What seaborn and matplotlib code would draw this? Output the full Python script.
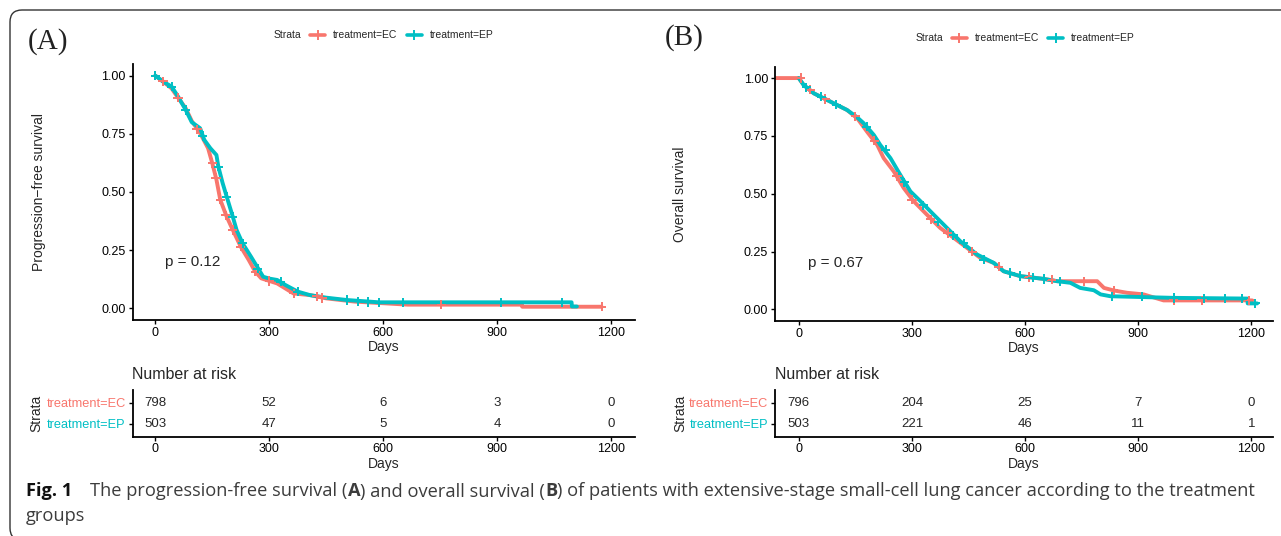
import numpy as np
import pandas as pd
import matplotlib
matplotlib.use("Agg")
import matplotlib.pyplot as plt
from matplotlib.lines import Line2D
from matplotlib.patches import FancyBboxPatch
import seaborn as sns

# ---------------- data ----------------
strata = ["treatment=EC", "treatment=EP"]
colors = ["#F8766D", "#00BFC4"]

# Panel A: progression-free survival
pfs_ec_days = [0, 20, 43, 60, 80, 96, 118, 139, 150, 161, 171, 188, 204, 225, 246, 263, 279, 300,
               321, 343, 364, 407, 450, 525, 600, 664, 965, 966, 1175]
pfs_ec_surv = [1.0, 0.975, 0.945, 0.905, 0.86, 0.805, 0.753, 0.688, 0.624, 0.553, 0.467, 0.394, 0.337,
               0.265, 0.208, 0.158, 0.129, 0.118, 0.107, 0.085, 0.064, 0.057, 0.043, 0.029, 0.022,
               0.016, 0.016, 0.007, 0.007]
pfs_ep_days = [0, 20, 43, 60, 80, 96, 118, 129, 145, 161, 166, 177, 188, 204, 214, 230, 252, 268, 284,
               300, 321, 343, 375, 407, 450, 504, 589, 1096, 1097, 1110]
pfs_ep_surv = [1.0, 0.975, 0.953, 0.91, 0.853, 0.80, 0.774, 0.724, 0.688, 0.659, 0.609, 0.54, 0.48,
               0.394, 0.337, 0.279, 0.222, 0.179, 0.136, 0.128, 0.122, 0.10, 0.072, 0.057, 0.046,
               0.036, 0.026, 0.026, 0.008, 0.008]
pfs_ec_cens_days = [0, 20, 60, 110, 150, 160, 171, 185, 204, 225, 263, 300, 364, 425, 440, 753, 1175]
pfs_ec_cens_surv = [1.0, 0.975, 0.905, 0.77, 0.624, 0.56, 0.467, 0.40, 0.337, 0.265, 0.158, 0.118,
                    0.064, 0.052, 0.045, 0.016, 0.007]
pfs_ep_cens_days = [0, 43, 80, 125, 166, 188, 204, 230, 270, 330, 375, 504, 535, 559, 590, 651, 910, 1070]
pfs_ep_cens_surv = [1.0, 0.953, 0.853, 0.74, 0.609, 0.48, 0.394, 0.279, 0.17, 0.115, 0.072, 0.036,
                    0.03, 0.027, 0.026, 0.026, 0.026, 0.026]

# Panel B: overall survival
os_ec_days = [-63, 0, 13, 40, 84, 128, 155, 181, 208, 225, 252, 278, 305, 340, 375, 411, 446, 481,
              517, 543, 587, 649, 685, 791, 809, 835, 870, 914, 967, 1202]
os_ec_surv = [1.0, 1.0, 0.97, 0.934, 0.898, 0.862, 0.826, 0.768, 0.711, 0.654, 0.596, 0.525, 0.467,
              0.409, 0.352, 0.309, 0.266, 0.223, 0.201, 0.165, 0.144, 0.132, 0.122, 0.122, 0.093,
              0.082, 0.072, 0.065, 0.039, 0.039]
os_ep_days = [0, 13, 40, 84, 128, 155, 172, 199, 216, 243, 269, 296, 323, 358, 393, 428, 473, 517,
              543, 587, 649, 685, 720, 746, 782, 800, 826, 994, 1189, 1190, 1215]
os_ep_surv = [1.0, 0.97, 0.934, 0.898, 0.862, 0.83, 0.805, 0.754, 0.711, 0.654, 0.582, 0.51, 0.467,
              0.409, 0.352, 0.295, 0.237, 0.201, 0.165, 0.144, 0.132, 0.122, 0.115, 0.093, 0.083,
              0.065, 0.057, 0.05, 0.047, 0.026, 0.026]
os_ec_cens_days = [5, 30, 70, 150, 200, 260, 300, 350, 395, 460, 530, 610, 670, 755, 835, 994, 1069, 1193]
os_ec_cens_surv = [1.0, 0.95, 0.91, 0.835, 0.73, 0.575, 0.475, 0.39, 0.33, 0.25, 0.185, 0.14, 0.128,
                   0.122, 0.082, 0.039, 0.039, 0.039]
os_ep_cens_days = [20, 60, 100, 180, 230, 280, 330, 370, 410, 437, 490, 560, 587, 620, 649, 693, 831,
                   910, 994, 1073, 1131, 1175, 1210]
os_ep_cens_surv = [0.96, 0.92, 0.885, 0.79, 0.69, 0.55, 0.45, 0.38, 0.32, 0.285, 0.215, 0.158, 0.144,
                   0.138, 0.132, 0.122, 0.057, 0.055, 0.05, 0.048, 0.047, 0.047, 0.026]

# Risk tables
risk_times = [0, 300, 600, 900, 1200]
pfs_risk_ec = [798, 52, 6, 3, 0]
pfs_risk_ep = [503, 47, 5, 4, 0]
os_risk_ec = [796, 204, 25, 7, 0]
os_risk_ep = [503, 221, 46, 11, 1]

pvals = ["p = 0.12", "p = 0.67"]
ylabels = ["Progression\u2212free survival", "Overall survival"]
panel_labels = ["(A)", "(B)"]
ytick_vals = [0.0, 0.25, 0.5, 0.75, 1.0]
ytick_labels = ["0.00", "0.25", "0.50", "0.75", "1.00"]
caption_pieces = [("The progression-free survival (", "normal"), ("A", "bold"),
                  (") and overall survival (", "normal"), ("B", "bold"),
                  (") of patients with extensive-stage small-cell lung cancer according to the treatment", "normal")]
caption_line2 = "groups"

# ---------------- styling ----------------
sns.set_theme(style="ticks")
plt.rcParams['font.family'] = ['Liberation Sans', 'DejaVu Sans']

W, H = 1281, 536
fig = plt.figure(figsize=(W / 100, H / 100), dpi=100)


def fx(px):
    return px / W


def fy(py):
    return 1 - py / H


def make_axes(x0, x1, ytop, ybot):
    return fig.add_axes([fx(x0), fy(ybot), fx(x1 - x0), (ybot - ytop) / H])


axA = make_axes(132.5, 635, 64, 320)
axB = make_axes(775, 1273, 66.5, 321)
tA = make_axes(132.5, 635, 390, 436.5)
tB = make_axes(775, 1273, 390, 436.5)

xlimA = (-60, 1263)
xlimB = (-63, 1257)


def long_df(days_ec, surv_ec, days_ep, surv_ep):
    return pd.concat([
        pd.DataFrame({"day": days_ec, "surv": surv_ec, "strata": strata[0]}),
        pd.DataFrame({"day": days_ep, "surv": surv_ep, "strata": strata[1]}),
    ], ignore_index=True)


palette = dict(zip(strata, colors))

panels = [
    (axA, tA, xlimA,
     long_df(pfs_ec_days, pfs_ec_surv, pfs_ep_days, pfs_ep_surv),
     long_df(pfs_ec_cens_days, pfs_ec_cens_surv, pfs_ep_cens_days, pfs_ep_cens_surv),
     [pfs_risk_ec, pfs_risk_ep], 0, -0.172, -0.177),
    (axB, tB, xlimB,
     long_df(os_ec_days, os_ec_surv, os_ep_days, os_ep_surv),
     long_df(os_ec_cens_days, os_ec_cens_surv, os_ep_cens_days, os_ep_cens_surv),
     [os_risk_ec, os_risk_ep], 1, -0.176, -0.177),
]

for ax, tab, xlim, df, cens, risk, i, ylx, tlx in panels:
    sns.lineplot(data=df, x="day", y="surv", hue="strata", palette=palette, sort=False,
                 estimator=None, lw=2.8, legend=False, ax=ax)
    sns.scatterplot(data=cens, x="day", y="surv", hue="strata", palette=palette, marker="+",
                    s=45, linewidth=1.4, legend=False, ax=ax, zorder=3)
    ax.set_xlim(*xlim)
    ax.set_ylim(-0.05, 1.05)
    ax.set_xticks(risk_times)
    ax.set_yticks(ytick_vals)
    ax.set_yticklabels(ytick_labels)
    ax.set_xlabel("Days", fontsize=10, labelpad=1)
    ax.set_ylabel(ylabels[i], fontsize=10)
    ax.yaxis.set_label_coords(ylx, 0.5)
    ax.text(25, 0.2, pvals[i], fontsize=11, ha="left", va="center")
    sns.despine(ax=ax)
    for a in (ax, tab):
        for s in ("left", "bottom"):
            a.spines[s].set_color("black")
            a.spines[s].set_linewidth(1.3)
        a.tick_params(axis="both", length=3, width=1, color="black", labelsize=9,
                      labelcolor="black", pad=2)

    # risk table
    tab.set_xlim(*xlim)
    tab.set_ylim(0.4, 2.6)
    ypos = [2, 1]
    for row, yv in zip(risk, ypos):
        for t, n in zip(risk_times, row):
            tab.text(t, yv, str(n), ha="center", va="center", fontsize=9.5)
    tab.set_yticks(ypos)
    tab.set_yticklabels(strata, fontsize=9.2)
    for lbl, c in zip(tab.get_yticklabels(), colors):
        lbl.set_color(c)
    tab.set_xticks(risk_times)
    tab.set_xlabel("Days", fontsize=10, labelpad=1)
    tab.set_ylabel("Strata", fontsize=10)
    tab.yaxis.set_label_coords(tlx, 0.5)
    tab.text(0, 1 + (390 - 374.5) / 46.5, "Number at risk", transform=tab.transAxes,
             fontsize=11.5, ha="left", va="center")
    sns.despine(ax=tab)

# panel labels
fig.text(fx(27.5), fy(41.5), panel_labels[0], fontsize=21, family="Liberation Serif",
         ha="left", va="center", color="#222222")
fig.text(fx(664.5), fy(37.5), panel_labels[1], fontsize=21, family="Liberation Serif",
         ha="left", va="center", color="#222222")

# legends
handles = [Line2D([], [], color=c, lw=2.6, marker="+", ms=7, mew=1.4) for c in colors]
for sx, hx, ly in [(274, 310, 35.5), (916, 951.5, 38.5)]:
    fig.text(fx(sx), fy(ly), "Strata", fontsize=7.5, ha="left", va="center")
    fig.legend(handles, strata, loc="center left", bbox_to_anchor=(fx(hx), fy(ly)),
               bbox_transform=fig.transFigure, ncol=2, frameon=False, fontsize=7.5,
               handlelength=1.45, handletextpad=0.75, columnspacing=0.9, borderpad=0,
               borderaxespad=0)

# outer rounded frame (bottom edge falls just outside the image)
frame = FancyBboxPatch((fx(10), fy(540)), fx(1400), (540 - 10) / H,
                       boxstyle="round,pad=0,rounding_size=%f" % (12 / W),
                       mutation_aspect=W / H, transform=fig.transFigure,
                       fill=False, ec="#333333", lw=1.0, clip_on=False)
fig.patches.append(frame)

# caption
fig.canvas.draw()
renderer = fig.canvas.get_renderer()
cap_font = ["Open Sans", "DejaVu Sans"]


def place(pieces, x0, ypx, fs):
    texts = []
    x = x0
    for s, w in pieces:
        t = fig.text(fx(x), fy(ypx), s, fontsize=fs, fontweight=w, family=cap_font,
                     ha="left", va="center", color="#3c3c3c")
        texts.append(t)
        x += t.get_window_extent(renderer).width
    return texts, x


fs = 12.0
for _ in range(3):
    texts, xend = place(caption_pieces, 90.5, 491.5, fs)
    for t in texts:
        t.remove()
    fs = fs * (1255 - 90.5) / (xend - 90.5)
place(caption_pieces, 90.5, 491.5, fs)
fig.text(fx(26), fy(491.5), "Fig. 1", fontsize=fs, fontweight="bold", family=cap_font,
         ha="left", va="center", color="#111111")
fig.text(fx(26), fy(516), caption_line2, fontsize=fs, family=cap_font,
         ha="left", va="center", color="#3c3c3c")

fig.savefig("out.png", dpi=100)
